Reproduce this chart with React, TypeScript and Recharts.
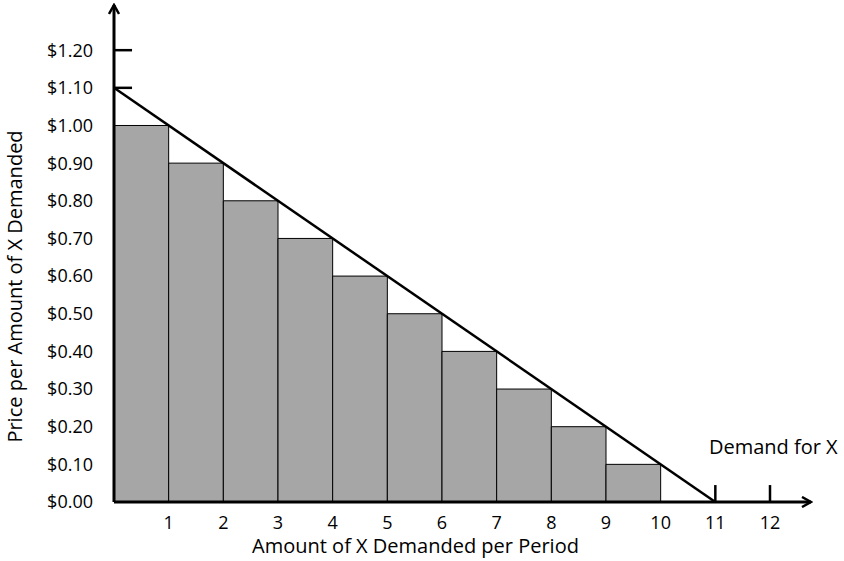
import React from "react";
import {
  ComposedChart,
  XAxis,
  YAxis,
  ReferenceArea,
  ReferenceLine,
  ReferenceDot,
  Label,
} from "recharts";

// units of X demanded (right edge of each bar) and price for that unit
const quantities = [1, 2, 3, 4, 5, 6, 7, 8, 9, 10];
const prices = [1.0, 0.9, 0.8, 0.7, 0.6, 0.5, 0.4, 0.3, 0.2, 0.1];

// demand curve end points
const demandLine = [
  { x: 0, y: 1.1 },
  { x: 11, y: 0 },
];

const xTicks = [1, 2, 3, 4, 5, 6, 7, 8, 9, 10, 11, 12];
const yTicks = [0, 0.1, 0.2, 0.3, 0.4, 0.5, 0.6, 0.7, 0.8, 0.9, 1.0, 1.1, 1.2];

// the only tick marks drawn on each axis
const yMarks = [1.1, 1.2];
const xMarks = [11, 12];

const font = "'Open Sans', sans-serif";

export default function App() {
  return (
    <div style={{ position: "absolute", left: 0, top: 0, background: "#fff" }}>
      <ComposedChart
        width={844}
        height={561}
        data={[]}
        margin={{ top: 5, right: 33, left: 0, bottom: 0 }}
      >
        <defs>
          <marker
            id="arrow"
            viewBox="0 0 12 12"
            refX="10"
            refY="6"
            markerWidth="12"
            markerHeight="12"
            markerUnits="userSpaceOnUse"
            orient="auto-start-reverse"
          >
            <path d="M1,1 L10,6 L1,11" fill="none" stroke="#000" strokeWidth={2.5} />
          </marker>
        </defs>
        <XAxis
          type="number"
          dataKey="x"
          domain={[0, 12.75]}
          ticks={xTicks}
          allowDataOverflow
          height={59}
          tickSize={0}
          tickMargin={14}
          tickLine={false}
          axisLine={{ stroke: "#000", strokeWidth: 3, markerEnd: "url(#arrow)" }}
          tick={{ fill: "#000", fontSize: 18, fontFamily: font }}
        >
          <Label
            value="Amount of X Demanded per Period"
            position="insideBottom"
            offset={8}
            dx={-47}
            style={{ fill: "#000", fontSize: 20, fontFamily: font }}
          />
        </XAxis>
        <YAxis
          type="number"
          domain={[0, 1.32]}
          ticks={yTicks}
          allowDataOverflow
          width={114}
          tickSize={0}
          tickMargin={21}
          tickLine={false}
          tickFormatter={(v: number) => `$${v.toFixed(2)}`}
          axisLine={{ stroke: "#000", strokeWidth: 3, markerStart: "url(#arrow)" }}
          tick={{ fill: "#000", fontSize: 18, fontFamily: font }}
        >
          <Label
            value="Price per Amount of X Demanded"
            angle={-90}
            position="insideLeft"
            offset={15}
            dy={33}
            style={{ textAnchor: "middle", fill: "#000", fontSize: 20, fontFamily: font }}
          />
        </YAxis>
        {quantities.map((q, i) => (
          <ReferenceArea
            key={q}
            x1={q - 1}
            x2={q}
            y1={0}
            y2={prices[i]}
            fill="#a6a6a6"
            fillOpacity={1}
            stroke="#000"
            strokeWidth={1}
            ifOverflow="visible"
          />
        ))}
        <ReferenceLine
          segment={demandLine}
          stroke="#000"
          strokeWidth={2.5}
          ifOverflow="visible"
        />
        {yMarks.map((v) => (
          <ReferenceLine
            key={"y" + v}
            segment={[
              { x: 0, y: v },
              { x: 0.33, y: v },
            ]}
            stroke="#000"
            strokeWidth={2.5}
            ifOverflow="visible"
          />
        ))}
        {xMarks.map((v) => (
          <ReferenceLine
            key={"x" + v}
            segment={[
              { x: v, y: 0 },
              { x: v, y: 0.045 },
            ]}
            stroke="#000"
            strokeWidth={2.5}
            ifOverflow="visible"
          />
        ))}
        <ReferenceDot
          x={12.06}
          y={0.146}
          r={0}
          fill="none"
          stroke="none"
          ifOverflow="visible"
          label={{
            value: "Demand for X",
            position: "center",
            fill: "#000",
            fontSize: 20,
            fontFamily: font,
          }}
        />
      </ComposedChart>
    </div>
  );
}
